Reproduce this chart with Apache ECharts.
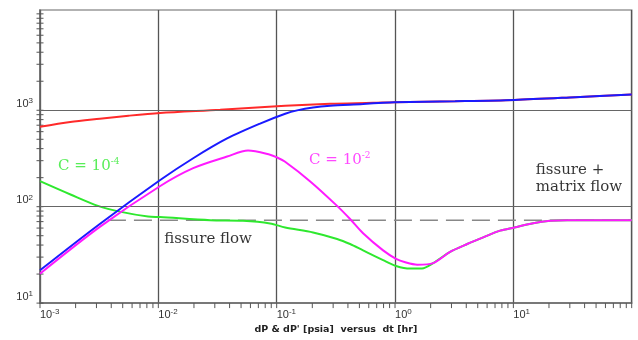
<!DOCTYPE html>
<html>
<head>
<meta charset="utf-8">
<script src="https://cdn.jsdelivr.net/npm/echarts@6/dist/echarts.min.js"></script>
<style>
  html, body { margin: 0; padding: 0; background: #ffffff; }
  #chart { width: 638px; height: 340px; }
</style>
</head>
<body>
<div id="chart"></div>
<script>
// Dual-porosity type curves: pressure change dP and derivative dP' [psia] versus dt [hr]

// dP, wellbore storage C = 1e-4
const dpLowStorage = [
  [0.001, 673], [0.0018, 757], [0.0032, 818], [0.0056, 878], [0.0103, 936],
  [0.0333, 1012], [0.118, 1112], [0.283, 1166], [0.653, 1194], [0.99, 1214],
  [3.22, 1242], [10.2, 1281], [33.3, 1366], [100, 1459]
];

// dP, wellbore storage C = 1e-2
const dpHighStorage = [
  [0.001, 21.9], [0.0032, 66.2], [0.0103, 188], [0.0197, 318], [0.0381, 510],
  [0.0724, 728], [0.118, 920], [0.149, 998], [0.203, 1068], [0.283, 1112],
  [0.537, 1160], [0.8, 1200], [0.99, 1214], [3.22, 1242], [10.2, 1281],
  [33.3, 1366], [100, 1459]
];

// dP', wellbore storage C = 1e-4
const derivLowStorage = [
  [0.001, 184], [0.00183, 133], [0.00309, 102], [0.00484, 88.3], [0.00818, 78.9],
  [0.0103, 78], [0.0274, 72.3], [0.0519, 71.3], [0.0879, 67], [0.118, 60.9],
  [0.203, 54.1], [0.324, 46.3], [0.417, 41], [0.537, 35.2], [0.793, 27.9],
  [1.02, 24.3], [1.34, 22.8], [1.69, 22.9], [2.1, 26], [2.92, 34], [4.07, 41],
  [5.56, 48.1], [7.73, 56.4], [10.2, 60.9], [14.7, 67.5], [20.5, 71.3],
  [28.5, 72.5], [100, 72.5]
];

// dP', wellbore storage C = 1e-2
const derivHighStorage = [
  [0.001, 20.2], [0.0032, 61.7], [0.0103, 163], [0.0197, 251], [0.0381, 331],
  [0.0573, 382], [0.0879, 346], [0.1007, 324], [0.117, 294], [0.191, 184],
  [0.324, 102], [0.417, 74.5], [0.537, 53], [0.793, 35.2], [1.02, 28.8],
  [1.22, 26.5], [1.54, 25], [2.1, 26], [2.92, 34], [4.07, 41], [5.56, 48.1],
  [7.73, 56.4], [10.2, 60.9], [14.7, 67.5], [20.5, 71.3], [28.5, 72.5], [100, 72.5]
];

// fissure-flow derivative plateau
const fissureAsymptote = [[0.00375, 72.5], [100, 72.5]];

// decade labels (exponents of 10)
const xTickExponents = ['-3', '-2', '-1', '0', '1'];
const yTickExponents = ['1', '2', '3'];

// axis ranges
const xMin = 0.001, xMax = 100;
const yMin = 10, yMax = 10965;

// horizontal grid at these values
const yGridValues = [100, 1000];

// log-spaced tick positions (1..9 per decade)
const xTickValues = [];
for (let e = -3; e < 2; e++) for (let m = 1; m <= 9; m++) xTickValues.push([m * Math.pow(10, e), yMin]);
xTickValues.push([xMax, yMin]);
const yTickValues = [];
for (let e = 1; e < 4; e++) for (let m = 1; m <= 9; m++) yTickValues.push([xMin, m * Math.pow(10, e)]);
yTickValues.push([xMin, 10000]);

function decadeLabel(v, exps) {
  const l = Math.log10(v);
  const e = Math.round(l);
  if (Math.abs(l - e) > 1e-6) return '';
  const s = String(e);
  if (exps.indexOf(s) < 0) return '';
  return '{n|10}{s|' + s + '}';
}

const axisRich = {
  n: { fontFamily: 'Liberation Sans', fontSize: 11, color: '#333', lineHeight: 13 },
  s: { fontFamily: 'Liberation Sans', fontSize: 8, color: '#333', verticalAlign: 'top', lineHeight: 9 }
};

const serif = 'DejaVu Serif';
function supRich(color) {
  return {
    n: { fontFamily: serif, fontSize: 15, color: color, lineHeight: 17 },
    s: { fontFamily: serif, fontSize: 9, color: color, verticalAlign: 'top', lineHeight: 11 }
  };
}

function annotation(name, point, text, color, extra) {
  return {
    name: name,
    type: 'scatter',
    data: [point],
    symbolSize: 0,
    silent: true,
    z: 10,
    label: Object.assign({
      show: true,
      position: 'inside',
      align: 'left',
      verticalAlign: 'middle',
      formatter: text,
      color: color,
      fontFamily: serif,
      fontSize: 15,
      rich: supRich(color)
    }, extra || {})
  };
}

function curve(name, data, color, z) {
  return {
    name: name, type: 'line', data: data,
    smooth: 0.3, showSymbol: false,
    lineStyle: { color: color, width: 2 }, z: z
  };
}

const chart = echarts.init(document.getElementById('chart'), null, { renderer: 'canvas' });

chart.setOption({
  animation: false,
  backgroundColor: '#ffffff',
  grid: {
    left: 40, right: 6.3, top: 10, bottom: 33.5,
    show: true, borderColor: '#999', borderWidth: 1.5, backgroundColor: '#ffffff'
  },
  xAxis: {
    type: 'log', logBase: 10, min: xMin, max: xMax,
    name: "dP & dP' [psia]  versus  dt [hr]",
    nameLocation: 'middle', nameGap: 21,
    nameTextStyle: { fontFamily: 'DejaVu Sans', fontWeight: 'bold', fontSize: 9.5, color: '#222' },
    axisLine: { show: true, lineStyle: { color: '#666', width: 1.5 } },
    axisTick: { show: false },
    minorTick: { show: false },
    splitLine: { show: true, lineStyle: { color: '#555', width: 1.3 } },
    axisLabel: {
      show: true, margin: 5, align: 'left',
      formatter: v => decadeLabel(v, xTickExponents),
      rich: axisRich
    }
  },
  yAxis: {
    type: 'log', logBase: 10, min: yMin, max: yMax,
    axisLine: { show: true, lineStyle: { color: '#666', width: 1.5 } },
    axisTick: { show: false },
    splitLine: { show: false },
    axisLabel: {
      show: true, margin: 7, verticalAlign: 'bottom',
      formatter: v => decadeLabel(v, yTickExponents),
      rich: axisRich
    }
  },
  series: [
    {
      name: 'fissure flow asymptote',
      type: 'line', data: fissureAsymptote, showSymbol: false, silent: true,
      lineStyle: { color: '#888', width: 1.5, type: [18, 8] },
      markLine: {
        silent: true, symbol: ['none', 'none'], label: { show: false },
        lineStyle: { color: '#666', width: 1.2, type: 'solid' },
        data: yGridValues.map(v => ({ yAxis: v }))
      },
      z: 2
    },
    {
      name: 'x ticks', type: 'custom', data: xTickValues, silent: true, clip: false, z: 3,
      renderItem: (params, api) => {
        const p = api.coord([api.value(0), api.value(1)]);
        return { type: 'line', shape: { x1: p[0], y1: p[1], x2: p[0], y2: p[1] + 5 },
                 style: { stroke: '#555', lineWidth: 1 } };
      }
    },
    {
      name: 'y ticks', type: 'custom', data: yTickValues, silent: true, clip: false, z: 3,
      renderItem: (params, api) => {
        const p = api.coord([api.value(0), api.value(1)]);
        return { type: 'line', shape: { x1: p[0] - 3.5, y1: p[1], x2: p[0] + 3.5, y2: p[1] },
                 style: { stroke: '#555', lineWidth: 1 } };
      }
    },
    curve('dP C=1e-4', dpLowStorage, '#ff2a2a', 4),
    curve('dP C=1e-2', dpHighStorage, '#1a1aff', 5),
    curve("dP' C=1e-4", derivLowStorage, '#2ee82e', 4),
    curve("dP' C=1e-2", derivHighStorage, '#ff1aff', 5),
    annotation('label C=1e-4', [0.00142, 265], '{n|C = 10}{s|-4}', '#2ee82e'),
    annotation('label C=1e-2', [0.188, 306], '{n|C = 10}{s|-2}', '#ff1aff'),
    annotation('label fissure', [0.0112, 46.2], 'fissure flow', '#000'),
    annotation('label fissure matrix', [14.6, 176], 'fissure +\nmatrix flow', '#000', {
      lineHeight: 17, backgroundColor: '#ffffff', padding: [2, 6, 10, 3]
    })
  ]
});
</script>
</body>
</html>
